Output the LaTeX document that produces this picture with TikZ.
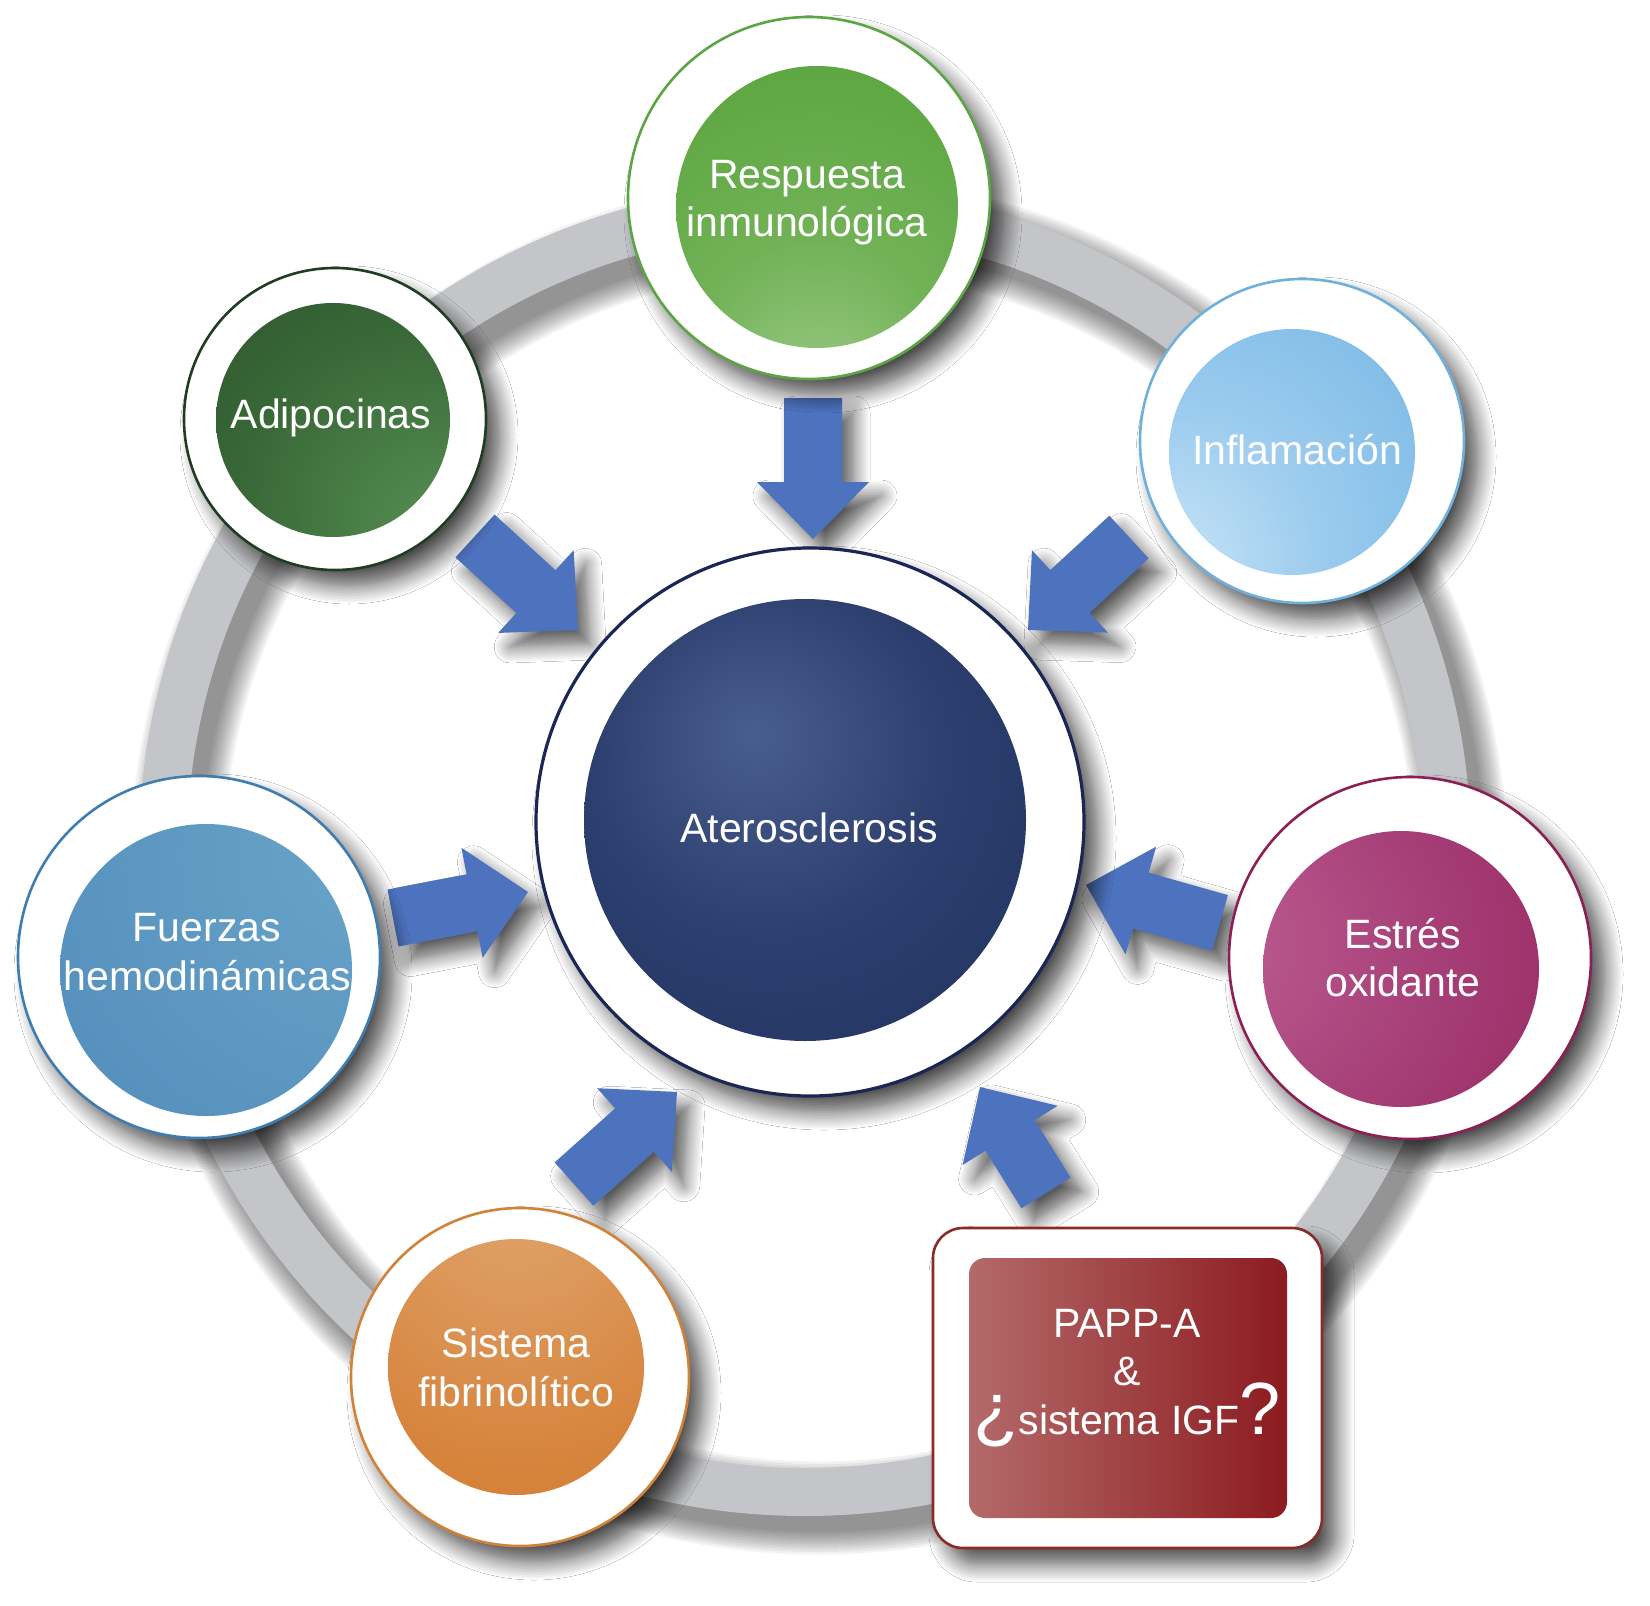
\documentclass[tikz,border=0pt]{standalone}
\usepackage{fontspec}
\setmainfont{Liberation Sans}
\usetikzlibrary{calc,shadows.blur}

\definecolor{ringgray}{HTML}{C4C5C8}
\definecolor{arrowblue}{HTML}{4D72BE}
\definecolor{respA}{HTML}{9CCB88}\definecolor{respB}{HTML}{72B257}\definecolor{respC}{HTML}{5AA53E}\definecolor{respLine}{HTML}{5CA545}
\definecolor{adipA}{HTML}{5A9456}\definecolor{adipB}{HTML}{3A6A38}\definecolor{adipC}{HTML}{244626}\definecolor{adipLine}{HTML}{1F3D22}
\definecolor{inflA}{HTML}{D2EAF8}\definecolor{inflB}{HTML}{9CCCEE}\definecolor{inflC}{HTML}{74B5E4}\definecolor{inflLine}{HTML}{6FB0DD}
\definecolor{fuerA}{HTML}{6CA7CB}\definecolor{fuerB}{HTML}{4783B4}\definecolor{fuerLine}{HTML}{3F7DB0}
\definecolor{estrA}{HTML}{BE6195}\definecolor{estrB}{HTML}{A33A73}\definecolor{estrC}{HTML}{921A55}\definecolor{estrLine}{HTML}{8E1F55}
\definecolor{sistA}{HTML}{E0A772}\definecolor{sistB}{HTML}{D7863F}\definecolor{sistC}{HTML}{CF6C1E}\definecolor{sistLine}{HTML}{D08338}
\definecolor{atA}{HTML}{4A5E8E}\definecolor{atB}{HTML}{2C3F6E}\definecolor{atC}{HTML}{20305E}\definecolor{atLine}{HTML}{1A2656}
\definecolor{papL}{HTML}{B46A6A}\definecolor{papR}{HTML}{8C1B1F}\definecolor{papLine}{HTML}{8A2A2A}

\pgfdeclareradialshading{shResp}{\pgfpoint{0bp}{-36bp}}{color(0bp)=(respA);color(22bp)=(respB);color(48bp)=(respC);color(95bp)=(respC)}
\pgfdeclareradialshading{shAdip}{\pgfpoint{28bp}{-28bp}}{color(0bp)=(adipA);color(35bp)=(adipB);color(72bp)=(adipC);color(100bp)=(adipC)}
\pgfdeclareradialshading{shInfl}{\pgfpoint{-32bp}{-28bp}}{color(0bp)=(inflA);color(28bp)=(inflB);color(60bp)=(inflC);color(100bp)=(inflC)}
\pgfdeclareradialshading{shFuer}{\pgfpoint{38bp}{28bp}}{color(0bp)=(fuerA);color(85bp)=(fuerB);color(110bp)=(fuerB)}
\pgfdeclareradialshading{shEstr}{\pgfpoint{-40bp}{5bp}}{color(0bp)=(estrA);color(38bp)=(estrB);color(75bp)=(estrC);color(100bp)=(estrC)}
\pgfdeclareradialshading{shSist}{\pgfpoint{0bp}{40bp}}{color(0bp)=(sistA);color(40bp)=(sistB);color(75bp)=(sistC);color(100bp)=(sistC)}
\pgfdeclareradialshading{shAter}{\pgfpoint{-6bp}{10bp}}{color(0bp)=(atA);color(20bp)=(atB);color(45bp)=(atC);color(70bp)=(atC)}

\newcommand\lblfont{\fontsize{20.5pt}{24.25pt}\selectfont}
\newcommand\bigqfont{\fontsize{37pt}{37pt}\selectfont}

\tikzset{
  blurS/.style={blur shadow={shadow xshift=7pt, shadow yshift=-8pt, shadow blur radius=9pt, shadow blur steps=12, shadow opacity=70}},
  outercirc/.style={circle, fill=white, draw=#1, line width=1.3pt, inner sep=0pt, blurS},
  innercirc/.style={circle, inner sep=0pt, shading=#1},
  lbl/.style={text=white, align=center, inner sep=0pt, font=\lblfont},
  arrowfill/.style={fill=arrowblue, blur shadow={shadow xshift=6pt, shadow yshift=-7pt, shadow blur radius=8pt, shadow blur steps=10, shadow opacity=65}},
}

\newcommand\blockarrow[2]{%
  \path ($(#2)!28.5pt!(#1)$) coordinate (ha);
  \fill[arrowfill] ($(#1)!14.5pt!90:(#2)$) -- ($(ha)!14.5pt!90:(#2)$) -- ($(ha)!28pt!90:(#2)$) -- (#2)
    -- ($(ha)!28pt!-90:(#2)$) -- ($(ha)!14.5pt!-90:(#2)$) -- ($(#1)!14.5pt!-90:(#2)$) -- cycle;
}

\begin{document}
\begin{tikzpicture}[x=0.5pt, y=0.5pt]
\useasboundingbox (0,0) rectangle (1650,-1606);
\fill[white] (0,0) rectangle (1650,-1606);

% grey ring
\coordinate (ringC) at (805,-850);
\foreach \k in {0,...,9}{\draw[black, opacity=0.05, line width={24pt+\k*2.5pt}] ([shift={(14,-16)}]ringC) circle (321pt);}
\draw[ringgray, line width=24pt] (ringC) circle (321pt);

% block arrows
\coordinate (aT) at (813,-398);  \coordinate (aP) at (813,-539);
\coordinate (bT) at (475,-536);  \coordinate (bP) at (578,-630);
\coordinate (cT) at (1129,-537); \coordinate (cP) at (1028,-630);
\coordinate (dT) at (393,-918);  \coordinate (dP) at (528,-892);
\coordinate (eT) at (1220,-923); \coordinate (eP) at (1086,-885);
\coordinate (fT) at (574,-1184); \coordinate (fP) at (677,-1092);
\coordinate (gT) at (1046,-1193);\coordinate (gP) at (980,-1087);
\blockarrow{aT}{aP}
\blockarrow{bT}{bP}
\blockarrow{cT}{cP}
\blockarrow{dT}{dP}
\blockarrow{eT}{eP}
\blockarrow{fT}{fP}
\blockarrow{gT}{gP}

% circles
\node[outercirc=respLine, minimum size=181pt] (resp) at (809,-198) {};
\node[innercirc=shResp, minimum size=141pt] (respin) at (817,-207) {};
\node[outercirc=adipLine, minimum size=151pt] (adip) at (335,-419) {};
\node[innercirc=shAdip, minimum size=117pt] (adipin) at (333,-420) {};
\node[outercirc=inflLine, minimum size=162pt] (infl) at (1302,-441) {};
\node[innercirc=shInfl, minimum size=123pt] (inflin) at (1292,-452) {};
\node[outercirc=fuerLine, minimum size=181pt] (fuer) at (199,-957) {};
\node[innercirc=shFuer, minimum size=146pt] (fuerin) at (206,-970) {};
\node[outercirc=estrLine, minimum size=181pt] (estr) at (1410,-958) {};
\node[innercirc=shEstr, minimum size=138pt] (estrin) at (1401,-969) {};
\node[outercirc=sistLine, minimum size=169pt] (sist) at (520,-1377) {};
\node[innercirc=shSist, minimum size=128pt] (sistin) at (516,-1367) {};
\node[outercirc=atLine, line width=1.6pt, minimum size=274pt] (ater) at (810,-822) {};
\node[innercirc=shAter, minimum size=221pt] (aterin) at (805,-820) {};

% PAPP-A box
\node[rectangle, rounded corners=15pt, fill=white, draw=papLine, line width=1.3pt, inner sep=0pt,
      minimum width=194.5pt, minimum height=160pt, blurS] (papp) at (1127.5,-1388) {};
\node[rectangle, rounded corners=8pt, inner sep=0pt, left color=papL, right color=papR,
      minimum width=159pt, minimum height=130pt] (pappin) at (1128,-1388) {};

% labels
\node[lbl] (resptxt) at (807,-202.6) {Respuesta\\inmunológica};
\node[lbl] (adiptxt) at (331,-418) {Adipocinas};
\node[lbl] (infltxt) at (1297,-450) {Inflamación};
\node[lbl] (fuertxt) at (207,-952) {Fuerzas\\hemodinámicas};
\node[lbl] (estrtxt) at (1403,-957.5) {Estrés\\oxidante};
\node[lbl] (sisttxt) at (516,-1367.5) {Sistema\\fibrinolítico};
\node[lbl] (atertxt) at (809,-828) {Aterosclerosis};
\node[lbl] (papptxt) at (1127,-1372) {PAPP-A\\\&\\{\bigqfont\smash{¿}}sistema IGF{\bigqfont\smash{?}}};
\end{tikzpicture}
\end{document}
